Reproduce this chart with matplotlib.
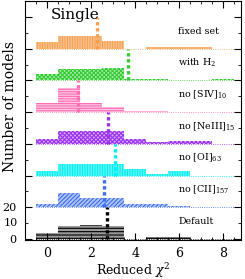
import numpy as np
import matplotlib
matplotlib.use('Agg')
import matplotlib.pyplot as plt
from matplotlib.colors import to_rgba
from matplotlib.ticker import FixedLocator, MultipleLocator

# bin centres (width 1) and model counts per run
bin_centers = [0, 1, 2, 3, 4, 5, 6, 7, 8]
runs = ['Default', 'no [CII]$_{157}$', 'no [OI]$_{63}$', 'no [NeIII]$_{15}$',
        'no [SIV]$_{10}$', 'with H$_2$', 'fixed set']
counts = {
    'Default':            [4, 8, 9, 8, 0, 1, 1, 0, 0],
    'no [CII]$_{157}$':   [2, 9, 6, 6, 2, 2, 1, 0, 0],
    'no [OI]$_{63}$':     [3, 7, 7, 7, 4, 1, 3, 0, 0],
    'no [NeIII]$_{15}$':  [3, 8, 8, 8, 3, 1, 2, 2, 0],
    'no [SIV]$_{10}$':    [6, 15, 6, 3, 1, 1, 0, 0, 0],
    'with H$_2$':         [4, 7, 7, 8, 1, 1, 0, 0, 1],
    'fixed set':          [4, 8, 8, 5, 0, 1, 1, 1, 0],
}
medians = [2.73, 2.6, 3.09, 2.78, 1.42, 3.68, 2.27]
colors = ['black', '#3a6cf0', '#00f0f0', '#9a30f0', '#ff6eb4', '#33cc33', '#f7a050']
hatches = ['-----', '////////', '||||||||||', 'xxxxxxxx', '-------', 'xxxxxxxx', '||||||||||']
offset = 20

plt.rcParams['font.family'] = ['DejaVu Serif']
plt.rcParams['mathtext.fontset'] = 'dejavuserif'
plt.rcParams['hatch.linewidth'] = 0.8

fig = plt.figure(figsize=(2.45, 2.79), dpi=100)
ax = fig.add_axes([0.102, 0.14, 0.882, 0.856])

for i, name in enumerate(runs):
    base = i * offset
    c = colors[i]
    face = to_rgba(c, 0.4)
    ax.plot([-0.5, 8.5], [base, base], color=c, lw=0.6, ls=':', zorder=1)
    ax.bar(bin_centers, counts[name], width=1.0, bottom=base, facecolor=face,
           edgecolor=c, linewidth=0, hatch=hatches[i], zorder=2)
    ax.plot([medians[i], medians[i]], [base, base + offset], color=c, lw=2.4,
            ls=(0, (1.0, 0.8)), zorder=3)
    ax.text(5.95, base + 11, name, fontsize=6.8, va='center', ha='left')

ax.text(1.27, 141, 'Single', fontsize=11, ha='center', va='center')

ax.set_xlim(-1.0, 8.8)
ax.set_ylim(-0.6, 150)
ax.xaxis.set_major_locator(FixedLocator([0, 2, 4, 6, 8]))
ax.xaxis.set_minor_locator(MultipleLocator(0.5))
ax.yaxis.set_major_locator(FixedLocator([0, 20, 40, 60, 80, 100, 120, 140]))
ax.yaxis.set_minor_locator(FixedLocator([10, 30, 50, 70, 90, 110, 130]))
ax.set_yticklabels(['0', '20', '', '', '', '', '', ''])
ax.tick_params(which='both', direction='in', top=True, right=True, labelsize=9)
ax.tick_params(axis='y', pad=6, labelsize=8)
ax.tick_params(axis='x', pad=5)
ax.tick_params(which='major', length=5)
ax.tick_params(which='minor', length=2.5)
ax.set_xlabel('Reduced $\\chi^2$', fontsize=9, labelpad=1)
ax.set_ylabel('Number of models', fontsize=10, va='center')
ax.yaxis.set_label_coords(-0.07, 0.56)
# the "10" label sits on a minor tick in the original
ax.text(-0.035, 10, '10', transform=ax.get_yaxis_transform(), fontsize=8,
        ha='right', va='center')

fig.savefig('out.png', dpi=100)
